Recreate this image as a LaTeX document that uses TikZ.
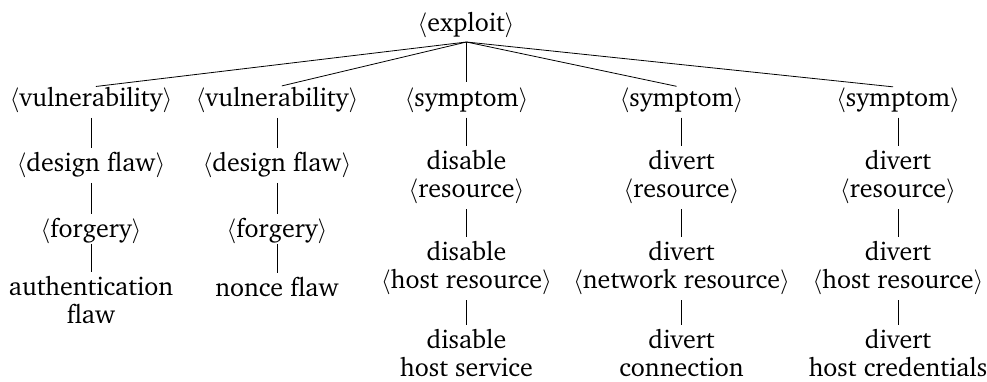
\documentclass[tikz,border=0pt]{standalone}
\usepackage[T1]{fontenc}
\usepackage{charter}
\tikzset{
  lbl/.style={inner sep=0pt, align=center, font=\fontsize{26}{28.5}\selectfont},
  br/.style={line width=0.8pt, shorten <=5pt, shorten >=4pt},
  fan/.style={line width=0.8pt, shorten >=5pt}
}
\newcommand{\ang}[1]{$\langle$#1$\rangle$}
\begin{document}
\begin{tikzpicture}[x=1pt,y=-1pt]
\useasboundingbox (0,0) rectangle (987,381);
\node[lbl] (ex) at (466,25) {\ang{exploit}};
\coordinate (hub) at (466.5,42);
% row 1
\node[lbl] (a1) at (91,100) {\ang{vulnerability}};
\node[lbl] (b1) at (277,100) {\ang{vulnerability}};
\node[lbl] (c1) at (466.5,100) {\ang{symptom}};
\node[lbl] (d1) at (681.5,100) {\ang{symptom}};
\node[lbl] (e1) at (898,100) {\ang{symptom}};
% column a
\node[lbl] (a2) at (91,165) {\ang{design flaw}};
\node[lbl] (a3) at (91,231) {\ang{forgery}};
\node[lbl] (a4) at (91,300) {authentication\\flaw};
% column b
\node[lbl] (b2) at (277,165) {\ang{design flaw}};
\node[lbl] (b3) at (277,231) {\ang{forgery}};
\node[lbl] (b4) at (277,287) {nonce flaw};
% column c
\node[lbl] (c2) at (466.5,177) {disable\\\ang{resource}};
\node[lbl] (c3) at (466.5,268) {disable\\\ang{host resource}};
\node[lbl] (c4) at (466.5,353) {disable\\host service};
% column d
\node[lbl] (d2) at (681.5,177) {divert\\\ang{resource}};
\node[lbl] (d3) at (681.5,268) {divert\\\ang{network resource}};
\node[lbl] (d4) at (681.5,353) {divert\\connection};
% column e
\node[lbl] (e2) at (898,177) {divert\\\ang{resource}};
\node[lbl] (e3) at (898,268) {divert\\\ang{host resource}};
\node[lbl] (e4) at (898,353) {divert\\host credentials};
% fan
\foreach \n in {a1,b1,c1,d1,e1} \draw[fan] (hub) -- (\n.north);
% chains
\draw[br] (a1) -- (a2);
\draw[br] (a2) -- (a3);
\draw[br, shorten <=0pt] (a3) -- (a4);
\draw[br] (b1) -- (b2);
\draw[br] (b2) -- (b3);
\draw[br, shorten <=0pt] (b3) -- (b4);
\draw[br] (c1) -- (c2);
\draw[br] (c2) -- (c3);
\draw[br] (c3) -- (c4);
\draw[br] (d1) -- (d2);
\draw[br] (d2) -- (d3);
\draw[br] (d3) -- (d4);
\draw[br] (e1) -- (e2);
\draw[br] (e2) -- (e3);
\draw[br] (e3) -- (e4);
\end{tikzpicture}
\end{document}
